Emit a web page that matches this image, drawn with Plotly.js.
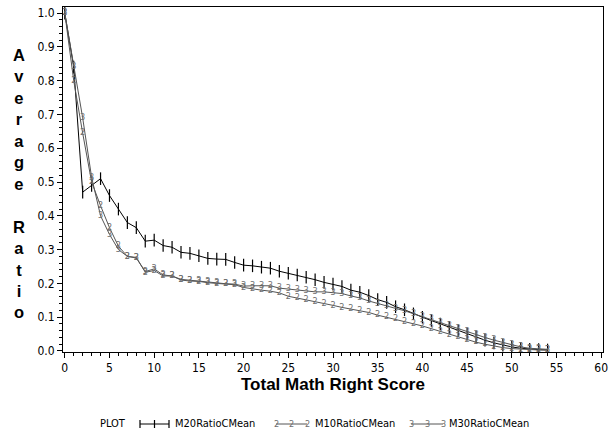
<!DOCTYPE html>
<html>
<head>
<meta charset="utf-8">
<script src="https://cdn.plot.ly/plotly-3.0.1.min.js"></script>
<style>html,body{margin:0;padding:0;background:#fff;}#chart{width:613px;height:434px;}</style>
</head>
<body>
<div id="chart"></div>
<script>
// ---- data ----
const score = [0,1,2,3,4,5,6,7,8,9,10,11,12,13,14,15,16,17,18,19,20,21,22,23,24,25,26,27,28,29,30,31,32,33,34,35,36,37,38,39,40,41,42,43,44,45,46,47,48,49,50,51,52,53,54];

const m20 = [1.0,0.84,0.47,0.49,0.51,0.46,0.42,0.38,0.365,0.325,0.328,0.312,0.307,0.292,0.289,0.282,0.274,0.272,0.271,0.262,0.254,0.252,0.248,0.245,0.236,0.230,0.225,0.218,0.211,0.203,0.198,0.191,0.180,0.174,0.164,0.152,0.144,0.131,0.122,0.110,0.100,0.090,0.080,0.070,0.060,0.050,0.041,0.032,0.024,0.017,0.012,0.008,0.005,0.004,0.003];

const m10 = [1.0,0.80,0.645,0.50,0.43,0.365,0.31,0.28,0.277,0.233,0.238,0.222,0.222,0.210,0.207,0.206,0.202,0.200,0.198,0.196,0.188,0.183,0.180,0.177,0.172,0.162,0.157,0.151,0.145,0.140,0.135,0.129,0.124,0.120,0.114,0.106,0.100,0.094,0.088,0.081,0.074,0.066,0.058,0.049,0.041,0.033,0.026,0.020,0.014,0.010,0.007,0.005,0.004,0.003,0.003];

const m30 = [1.0,0.84,0.69,0.514,0.40,0.345,0.30,0.28,0.275,0.235,0.243,0.225,0.222,0.212,0.209,0.207,0.204,0.201,0.199,0.198,0.192,0.193,0.193,0.193,0.186,0.183,0.181,0.178,0.175,0.175,0.172,0.170,0.163,0.157,0.148,0.140,0.134,0.126,0.119,0.110,0.102,0.094,0.085,0.076,0.067,0.058,0.049,0.040,0.032,0.025,0.018,0.012,0.008,0.006,0.005];

const seriesNames = ['M20RatioCMean','M10RatioCMean','M30RatioCMean'];
const seriesSymbols = ['+','2','3'];
const xTickVals = [0,5,10,15,20,25,30,35,40,45,50,55,60];
const yTickVals = [0.0,0.1,0.2,0.3,0.4,0.5,0.6,0.7,0.8,0.9,1.0];
const yTickText = yTickVals.map(v => v.toFixed(1));

// ---- styles ----
const tickFont = {family:'Liberation Sans Narrow, DejaVu Sans Condensed, Arial Narrow, sans-serif', size:12, color:'#000'};
const legFont = {family:'Liberation Sans Narrow, DejaVu Sans Condensed, sans-serif', size:11, color:'#000'};
const digitFont = {family:'Liberation Sans Narrow, DejaVu Sans Condensed, sans-serif', size:9, color:'#6e6e6e'};
const grayLine = '#555';

const traces = [
  {x:score, y:m20, name:seriesNames[0], type:'scatter', mode:'lines+markers',
   line:{color:'#000', width:1},
   marker:{symbol:'line-ns', size:9, line:{color:'#000', width:1.2}},
   showlegend:false},
  {x:score, y:m10, name:seriesNames[1], type:'scatter', mode:'lines+text',
   text:score.map(()=>seriesSymbols[1]), textposition:'middle center', textfont:digitFont,
   line:{color:grayLine, width:1}, showlegend:false},
  {x:score, y:m30, name:seriesNames[2], type:'scatter', mode:'lines+text',
   text:score.map(()=>seriesSymbols[2]), textposition:'middle center', textfont:digitFont,
   line:{color:grayLine, width:1}, showlegend:false}
];

// ---- layout ----
const W = 613, H = 434, ML = 63, MR = 10, MT = 7, MB = 82;
const PW = W - ML - MR, PH = H - MT - MB;
const px = v => (v - ML) / PW;          // pixel -> paper x
const py = v => (H - MB - v) / PH;      // pixel -> paper y

const shapes = [];
const annotations = [];

// y axis title: stacked letters
annotations.push({
  xref:'paper', yref:'paper', x:px(19), y:py(184), xanchor:'center', yanchor:'middle',
  showarrow:false, align:'center',
  text:'A<br>v<br>e<br>r<br>a<br>g<br>e<br>\u00a0<br>R<br>a<br>t<br>i<br>o',
  font:{family:'Liberation Sans, Arial, sans-serif', size:16.5, color:'#000', weight:'bold'}
});

// x axis title
annotations.push({
  xref:'paper', yref:'paper', x:0.5, y:py(384), xanchor:'center', yanchor:'middle',
  showarrow:false, text:'Total Math Right Score',
  font:{family:'Liberation Sans, Arial, sans-serif', size:17, color:'#000', weight:'bold'}
});

// custom legend
const legY = 424;
annotations.push({xref:'paper', yref:'paper', x:px(98), y:py(legY), xanchor:'left', yanchor:'middle',
  showarrow:false, text:'PLOT', font:legFont});
const legSamples = [[140,169,173],[276,307,313],[411,443,447]];
legSamples.forEach((s, i) => {
  shapes.push({type:'line', xref:'paper', yref:'paper', x0:px(s[0]), x1:px(s[1]), y0:py(legY), y1:py(legY),
    line:{color: i===0 ? '#000' : grayLine, width:1}});
  const mids = [s[0], (s[0]+s[1])/2, s[1]];
  mids.forEach(m => {
    if (i === 0) {
      shapes.push({type:'line', xref:'paper', yref:'paper', x0:px(m), x1:px(m), y0:py(legY-4), y1:py(legY+4),
        line:{color:'#000', width:1.2}});
    } else {
      annotations.push({xref:'paper', yref:'paper', x:px(m), y:py(legY), xanchor:'center', yanchor:'middle',
        showarrow:false, text:seriesSymbols[i], font:digitFont});
    }
  });
  annotations.push({xref:'paper', yref:'paper', x:px(s[2]), y:py(legY), xanchor:'left', yanchor:'middle',
    showarrow:false, text:seriesNames[i], font:legFont});
});

const layout = {
  width:W, height:H,
  margin:{l:ML, r:MR, t:MT, b:MB, pad:0},
  paper_bgcolor:'#fff', plot_bgcolor:'#fff',
  showlegend:false,
  font:{family:'Liberation Sans, Arial, sans-serif', color:'#000'},
  xaxis:{
    range:[-0.2, 60.2], tickmode:'array', tickvals:xTickVals, ticktext:xTickVals.map(String),
    ticks:'outside', ticklen:5, tickwidth:1, tickcolor:'#000',
    minor:{dtick:1, tick0:0, ticks:'outside', ticklen:3, tickwidth:1, tickcolor:'#000', showgrid:false},
    showline:true, linecolor:'#000', linewidth:1, mirror:true,
    showgrid:false, zeroline:false, tickfont:tickFont
  },
  yaxis:{
    range:[-0.003, 1.018], tickmode:'array', tickvals:yTickVals, ticktext:yTickText,
    ticks:'outside', ticklen:5, tickwidth:1, tickcolor:'#000',
    minor:{dtick:0.02, tick0:0, ticks:'outside', ticklen:3, tickwidth:1, tickcolor:'#000', showgrid:false},
    showline:true, linecolor:'#000', linewidth:1, mirror:true,
    showgrid:false, zeroline:false, tickfont:tickFont
  },
  shapes:shapes,
  annotations:annotations
};

Plotly.newPlot('chart', traces, layout, {displayModeBar:false, staticPlot:true});
</script>
</body>
</html>
